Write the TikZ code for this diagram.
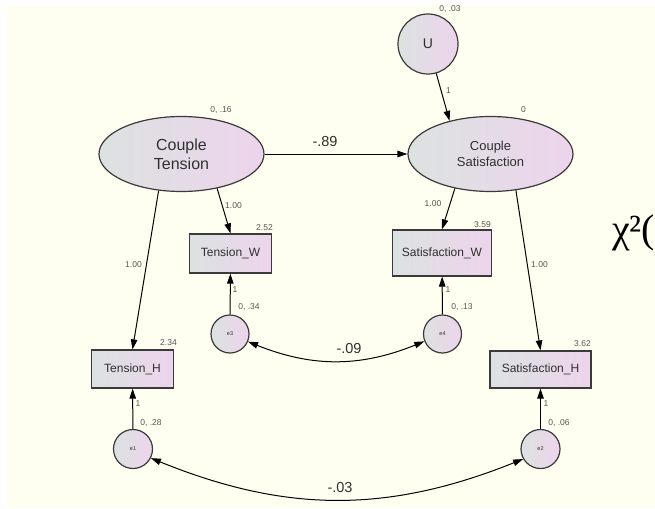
\documentclass[tikz,border=0pt]{standalone}
\usepackage{fontspec}
\setmainfont{Liberation Sans}
\newfontfamily\chifont{Liberation Serif}
\usetikzlibrary{arrows.meta,shapes.geometric}

\definecolor{paper}{HTML}{FFFFF1}
\definecolor{shadeL}{HTML}{DCE2E1}
\definecolor{shadeR}{HTML}{EDD4EC}
\definecolor{edge}{HTML}{3A3A3A}
\definecolor{lbl}{HTML}{555555}
\definecolor{txt}{HTML}{303030}

\tikzset{
  shaded/.style={draw=edge, line width=1.2pt, left color=shadeL, right color=shadeR,
                 inner sep=0pt, text=txt, align=center},
  latent/.style={shaded, ellipse, minimum width=165pt, minimum height=75pt},
  obs/.style={shaded, rectangle, font=\fontsize{12}{14}\selectfont},
  err/.style={shaded, circle, minimum size=38pt, font=\fontsize{5.5}{6}\selectfont},
  est/.style={font=\fontsize{8.5}{10}\selectfont, text=lbl, inner sep=0pt},
  coef/.style={font=\fontsize{14.5}{16}\selectfont, text=txt, inner sep=0pt},
  regpath/.style={draw=black, line width=1pt, -{Triangle[length=10pt,width=6.5pt]}},
  covpath/.style={draw=black, line width=1pt,
                  {Triangle[length=10pt,width=6.5pt]}-{Triangle[length=10pt,width=6.5pt]}}
}

\begin{document}
\begin{tikzpicture}[x=1pt,y=-1pt]
\useasboundingbox (0,0) rectangle (655,508);
\fill[white] (0,0) rectangle (655,508);
\fill[paper] (7,5) rectangle (655,508);

% latent variables
\node[latent, font=\fontsize{16}{19}\selectfont] (CT) at (181.5,154) {Couple\\Tension};
\node[latent, font=\fontsize{13}{16.5}\selectfont] (CS) at (490.5,154) {Couple\\Satisfaction};
\node[shaded, circle, minimum size=60pt, font=\fontsize{14}{16}\selectfont] (U) at (428,44) {U};

% observed indicators
\node[obs, minimum width=82pt, minimum height=39pt] (TW) at (230.5,253.5) {Tension\_W};
\node[obs, minimum width=99pt, minimum height=46pt] (SW) at (442,253) {Satisfaction\_W};
\node[obs, minimum width=82pt, minimum height=38pt] (TH) at (132.5,369) {Tension\_H};
\node[obs, minimum width=101pt, minimum height=37pt] (SH) at (540.5,369.5) {Satisfaction\_H};

% residuals
\node[err] (e3) at (230,334) {e3};
\node[err] (e4) at (442.5,334) {e4};
\node[err, minimum size=39pt] (e1) at (133,449) {e1};
\node[err, minimum size=39pt] (e2) at (540.5,449) {e2};

% structural and measurement paths
\draw[regpath] (U) -- (CS.141);
\draw[regpath] (CT) -- (CS);
\draw[regpath] (CT.-122) -- (TH.north);
\draw[regpath] (CT.-44) -- (TW.north);
\draw[regpath] (CS.-136) -- (SW.north);
\draw[regpath] (CS.-55) -- (SH.north);
\draw[regpath] (e3) -- (TW);
\draw[regpath] (e4) -- (SW);
\draw[regpath] (e1) -- (TH);
\draw[regpath] (e2) -- (SH);

% residual covariances
\draw[covpath] (e3.-23) to[bend right=22] (e4.-158);
\draw[covpath] (e1.-27) to[bend right=22] (e2.-150);

% estimates
\node[est] (vU)  at (450,9)     {0, .03};
\node[est] (vCT) at (221,110)   {0, .16};
\node[est] (vCS) at (523.5,110) {0};
\node[est] (wU)  at (448.5,91)  {1};
\node[est] (l1)  at (233.5,206) {1.00};
\node[est] (l2)  at (433,203.5) {1.00};
\node[est] (l3)  at (133.5,265) {1.00};
\node[est] (l4)  at (539.5,265) {1.00};
\node[est] (iTW) at (264.5,227.5) {2.52};
\node[est] (iSW) at (482.5,224.5) {3.59};
\node[est] (iTH) at (168.5,342.5) {2.34};
\node[est] (iSH) at (582.5,343.5) {3.62};
\node[est] (w3)  at (235,289.5) {1};
\node[est] (w4)  at (448,290)   {1};
\node[est] (w1)  at (138,404)   {1};
\node[est] (w2)  at (546,404)   {1};
\node[est] (v3)  at (249,307.5) {0, .34};
\node[est] (v4)  at (462,307.5) {0, .13};
\node[est] (v1)  at (151,423.5) {0, .28};
\node[est] (v2)  at (559,423.5) {0, .06};

\node[coef] (b1) at (325,142)   {-.89};
\node[coef] (c1) at (349,348.5) {-.09};
\node[coef] (c2) at (340,488)   {-.03};

% fit statistic at the right edge
\node[anchor=base west, inner sep=0pt, font=\chifont\fontsize{40}{42}\selectfont, text=black]
  (chi) at (612,242) {χ²(};
\end{tikzpicture}
\end{document}
